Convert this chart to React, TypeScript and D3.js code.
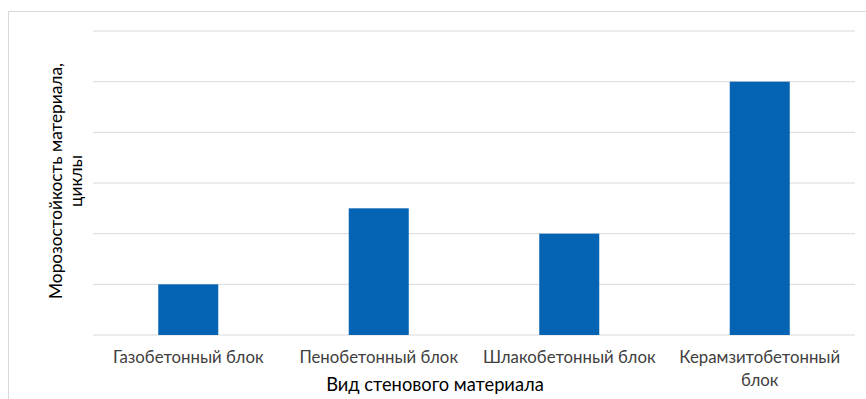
import React from "react";
import * as d3 from "d3";

// Frost resistance of wall materials (cycles, relative units)
const categories: string[][] = [
  ["Газобетонный блок"],
  ["Пенобетонный блок"],
  ["Шлакобетонный блок"],
  ["Керамзитобетонный", "блок"],
];
const values: number[] = [1, 2.5, 2, 5];
const yTicks: number[] = [0, 1, 2, 3, 4, 5, 6];
const yTitle: string[] = ["Морозостойкость материала,", "циклы"];
const xTitle = "Вид стенового материала";

const W = 866;
const H = 399;
const plot = { left: 93, right: 855, top: 31, bottom: 335 };
const FONT = "Lato, 'Open Sans', sans-serif";
const BAR = "#0563B3";

export default function App() {
  const x = d3
    .scaleBand<number>()
    .domain(d3.range(categories.length))
    .range([plot.left, plot.right])
    .padding(0);
  const y = d3.scaleLinear().domain([0, 6]).range([plot.bottom, plot.top]);
  const barW = x.bandwidth() * 0.315;

  return (
    <svg
      width={W}
      height={H}
      style={{ position: "absolute", left: 0, top: 0, background: "#fff" }}
    >
      <rect x={8.5} y={11.5} width={W + 10} height={H + 10} fill="#fff" stroke="#d9d9d9" />
      {yTicks.map((t) => (
        <line
          key={t}
          x1={plot.left}
          x2={plot.right}
          y1={y(t)}
          y2={y(t)}
          stroke="#d9d9d9"
          strokeWidth={1}
        />
      ))}
      {values.map((v, i) => {
        const cx = (x(i) as number) + x.bandwidth() / 2;
        return (
          <rect
            key={i}
            x={cx - barW / 2}
            y={y(v)}
            width={barW}
            height={y(0) - y(v)}
            fill={BAR}
          />
        );
      })}
      {categories.map((lines, i) => {
        const cx = (x(i) as number) + x.bandwidth() / 2;
        return (
          <text
            key={i}
            x={cx}
            y={363}
            textAnchor="middle"
            fontFamily={FONT}
            fontSize={16.8}
            fill="#404040"
          >
            {lines.map((l, j) => (
              <tspan key={j} x={cx} dy={j === 0 ? 0 : 23}>
                {l}
              </tspan>
            ))}
          </text>
        );
      })}
      <text
        x={435}
        y={391}
        textAnchor="middle"
        fontFamily={FONT}
        fontSize={18.3}
        fill="#000"
      >
        {xTitle}
      </text>
      <g transform="translate(0,181) rotate(-90)">
        {yTitle.map((l, j) => (
          <text
            key={j}
            x={0}
            y={62 + j * 20}
            textAnchor="middle"
            fontFamily={FONT}
            fontSize={17.3}
            fill="#000"
          >
            {l}
          </text>
        ))}
      </g>
    </svg>
  );
}
